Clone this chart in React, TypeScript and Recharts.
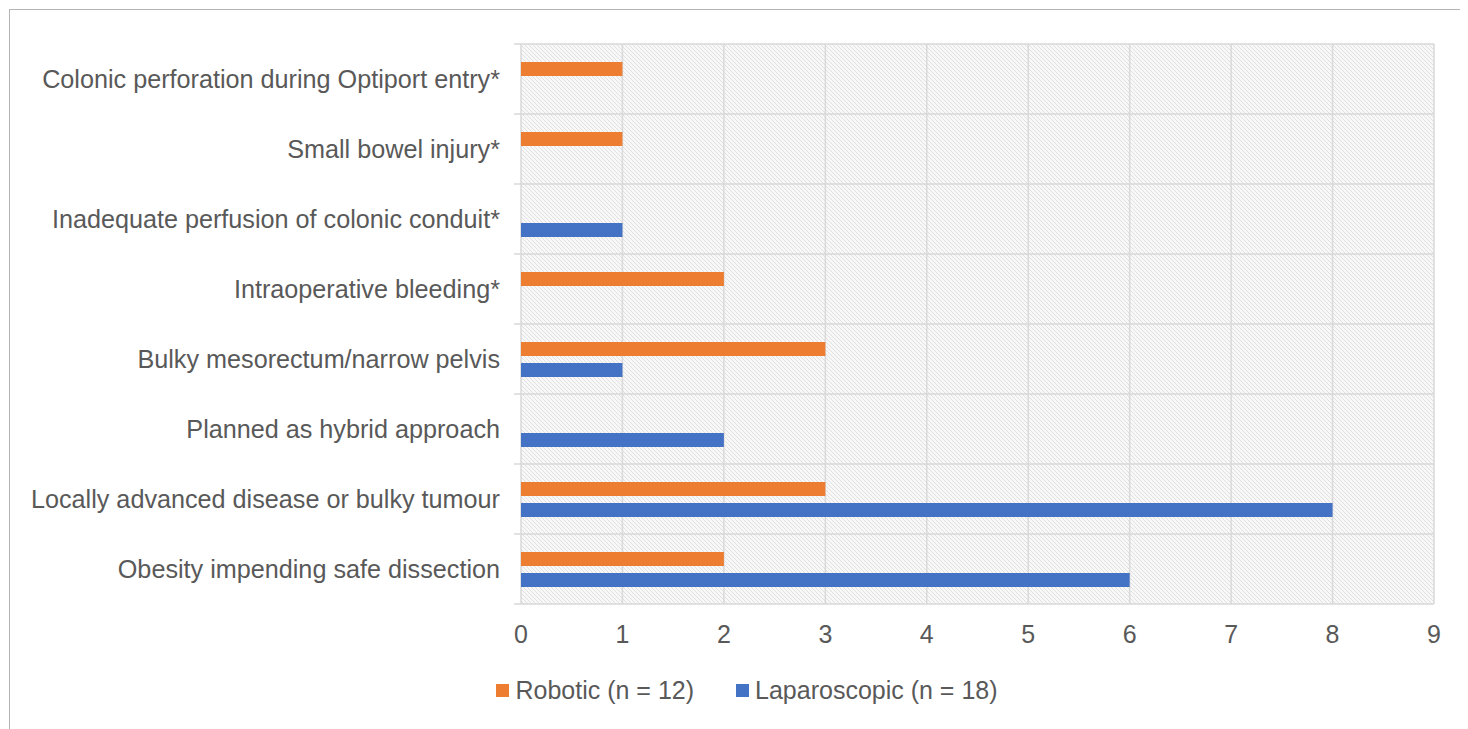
import React from 'react';
import { BarChart, Bar, XAxis, YAxis, CartesianGrid, Legend } from 'recharts';

const reasons = [
  'Colonic perforation during Optiport entry*',
  'Small bowel injury*',
  'Inadequate perfusion of colonic conduit*',
  'Intraoperative bleeding*',
  'Bulky mesorectum/narrow pelvis',
  'Planned as hybrid approach',
  'Locally advanced disease or bulky tumour',
  'Obesity impending safe dissection',
];
const robotic = [1, 1, 0, 2, 3, 0, 3, 2];
const laparoscopic = [0, 0, 1, 0, 1, 2, 8, 6];
const xTicks = [0, 1, 2, 3, 4, 5, 6, 7, 8, 9];
const seriesOrder = ['robotic', 'laparoscopic'];

const data = reasons.map((reason, i) => ({
  reason,
  robotic: robotic[i],
  laparoscopic: laparoscopic[i],
}));

const FONT = '"Liberation Sans", Arial, Helvetica, sans-serif';
const TEXT = '#595959';
const GRID = '#d9d9d9';
const ORANGE = '#ed7d31';
const BLUE = '#4472c4';
const LABEL_GAP = 14;
const STUB = 7;

// category label plus the little tick stubs at the row boundaries
const CategoryTick = (props: any) => {
  const { x, y, payload, index, visibleTicksCount } = props;
  const half = payload?.offset || 0;
  const x1 = x + LABEL_GAP;
  const x2 = x1 + STUB;
  return (
    <g>
      <line x1={x1} x2={x2} y1={y - half} y2={y - half} stroke={GRID} strokeWidth={1.5} />
      {index === visibleTicksCount - 1 && (
        <line x1={x1} x2={x2} y1={y + half} y2={y + half} stroke={GRID} strokeWidth={1.5} />
      )}
      <text x={x} y={y} dy="0.355em" textAnchor="end" fill={TEXT} fontSize={25.2} fontFamily={FONT}>
        {payload.value}
      </text>
    </g>
  );
};

const LegendContent = (props: any) => {
  const items = [...(props.payload || [])].sort(
    (a: any, b: any) => seriesOrder.indexOf(a.dataKey) - seriesOrder.indexOf(b.dataKey),
  );
  return (
    <div style={{
      display: 'flex', justifyContent: 'center', alignItems: 'center', gap: 42,
      paddingLeft: 24, height: 36, fontFamily: FONT, fontSize: 25, color: TEXT,
    }}>
      {items.map((it: any) => (
        <span key={it.value} style={{ display: 'flex', alignItems: 'center' }}>
          <span style={{ width: 13, height: 13, background: it.color, marginRight: 6, display: 'inline-block' }} />
          {it.value}
        </span>
      ))}
    </div>
  );
};

export default function App() {
  return (
    <div style={{
      marginLeft: 1, marginTop: 1, width: 1470, height: 730,
      borderLeft: '1px solid #b4b4b4', borderTop: '1px solid #b4b4b4', background: '#fff',
    }}>
      <BarChart
        width={1450}
        height={710}
        data={data}
        layout="vertical"
        margin={{ top: 34, right: 26, bottom: 30, left: 0 }}
        barSize={14}
        barGap={7}
      >
        <defs>
          <pattern id="hatch" patternUnits="userSpaceOnUse" width="4" height="4">
            <rect width="4" height="4" fill="#f8f8f8" />
            <path d="M-1,-1 L5,5 M3,-1 L5,1 M-1,3 L1,5" stroke="#e0e0e0" strokeWidth="1" />
          </pattern>
        </defs>
        <CartesianGrid
          stroke={GRID}
          strokeWidth={1.5}
          fill="url(#hatch)"
          fillOpacity={1}
          horizontalCoordinatesGenerator={({ offset }: any) =>
            reasons.map((_, i) => offset.top + (i * offset.height) / reasons.length)
              .concat(offset.top + offset.height)
          }
        />
        <YAxis
          type="category"
          dataKey="reason"
          width={511}
          axisLine={false}
          tickLine={false}
          tickSize={STUB}
          tickMargin={LABEL_GAP}
          tick={<CategoryTick />}
        />
        <XAxis
          type="number"
          domain={[0, 9]}
          ticks={xTicks}
          height={50}
          axisLine={false}
          tickLine={false}
          tickSize={0}
          tickMargin={21}
          tick={{ fill: TEXT, fontSize: 25, fontFamily: FONT }}
        />
        <Legend
          content={LegendContent}
          wrapperStyle={{ left: 0, width: 1450, bottom: 12 }}
        />
        <Bar dataKey="robotic" name="Robotic (n = 12)" fill={ORANGE} isAnimationActive={false} />
        <Bar dataKey="laparoscopic" name="Laparoscopic (n = 18)" fill={BLUE} isAnimationActive={false} />
      </BarChart>
    </div>
  );
}
